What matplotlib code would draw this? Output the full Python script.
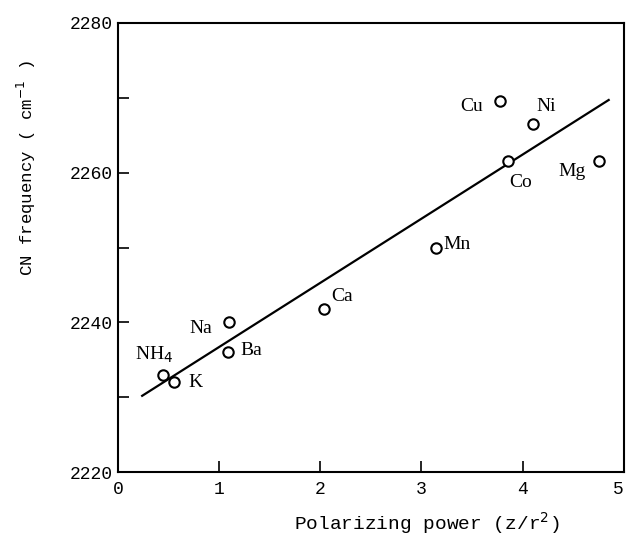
import matplotlib
matplotlib.use("Agg")
import matplotlib.pyplot as plt
import numpy as np

# Polarizing power (z/r^2) and CN stretching frequency for each cation
ions = ["NH$_4$", "K", "Na", "Ba", "Ca", "Mn", "Cu", "Co", "Ni", "Mg"]
power = np.array([0.45, 0.55, 1.10, 1.09, 2.04, 3.14, 3.78, 3.86, 4.10, 4.75])
freq = np.array([2233.0, 2232.0, 2240.0, 2236.0, 2241.8, 2250.0, 2269.6, 2261.6, 2266.5, 2261.5])

# straight line drawn through the points (ends)
fit_x = [0.24, 4.85]
fit_y = [2230.2, 2269.7]

# label offsets from each marker, in pixels
offsets = {
    "NH$_4$": (-9, 20), "K": (22, 0), "Na": (-28, -6), "Ba": (23, 2),
    "Ca": (18, 12), "Mn": (21, 3), "Cu": (-29, -6), "Co": (12, -22),
    "Ni": (13, 17), "Mg": (-27, -10),
}

mono = "Liberation Mono"
serif = "Liberation Serif"

fig = plt.figure(figsize=(6.27, 5.44), dpi=100)
ax = fig.add_axes([0.188, 0.132, 0.807, 0.826])

ax.plot(fit_x, fit_y, color="black", lw=1.6, zorder=2)
ax.plot(power, freq, "o", ms=7.5, mfc="white", mec="black", mew=1.5, zorder=3)

for name, x, y in zip(ions, power, freq):
    dx, dy = offsets[name]
    ax.annotate(name, (x, y), xytext=(dx, dy), textcoords="offset pixels",
                ha="center", va="center", fontsize=14, family=serif)

ax.set_xlim(0, 5)
ax.set_ylim(2220, 2280)
ax.set_xticks([0, 1, 2, 3, 4, 5])
ax.set_yticks([2220, 2240, 2260, 2280])
ax.set_yticks([2230, 2250, 2270], minor=True)
ax.tick_params(which="both", direction="in", length=8, width=1.2, labelsize=13)
ax.tick_params(axis="x", pad=6)
for lab in ax.get_xticklabels() + ax.get_yticklabels():
    lab.set_family(mono)
ax.get_xticklabels()[-1].set_ha("right")
for s in ax.spines.values():
    s.set_linewidth(1.5)

ax.set_xlabel("Polarizing power (z/r$^2$)", fontsize=14, family=mono)
ax.xaxis.set_label_coords(0.61, -0.085)
ax.set_ylabel("CN frequency ( cm$^{-1}$ )", fontsize=12.5, family=mono)
ax.yaxis.set_label_coords(-0.158, 0.677)

fig.savefig("out.png", dpi=100)
